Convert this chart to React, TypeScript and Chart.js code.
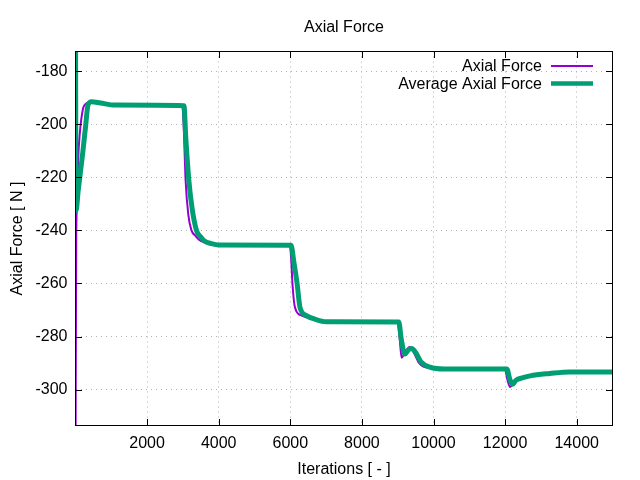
import React, { useEffect, useRef } from "react";
import { Chart, registerables } from "chart.js";

Chart.register(...registerables);

const chartTitle = "Axial Force";
const xAxisTitle = "Iterations [ - ]";
const yAxisTitle = "Axial Force [ N ]";
const seriesLabels = ["Axial Force", "Average Axial Force"];
const seriesColors = ["#9400d3", "#009e73"];

const xTickValues = [2000, 4000, 6000, 8000, 10000, 12000, 14000];
const yTickValues = [-300, -280, -260, -240, -220, -200, -180];

const forceX = [
  0, 20, 50, 75, 120, 213, 300, 420, 600, 900, 1200, 2000, 2980, 3020, 3075,
  3150, 3240, 3350, 3450, 3600, 3900, 4500, 5990, 6030, 6060, 6130, 6320, 6640,
  6950, 9000, 9050, 9110, 9200, 9340, 9450, 9600, 9810, 10500, 12000, 12060,
  12140, 12250, 12500, 12700, 13250, 13800, 15000,
];
const forceY = [
  -330, -243, -228, -213.5, -203.5, -194, -192.2, -191.5, -191.8, -192.5, -192.9,
  -193, -193, -200, -221, -234, -240, -242, -243.5, -244.5, -245.3, -245.6,
  -245.6, -252, -260, -269, -272.1, -273.4, -274.3, -274.5, -280, -288, -286,
  -283.9, -286, -290, -291.7, -292.2, -292.3, -296, -299, -297, -295.5, -294.8,
  -293.9, -293.3, -293.3,
];

const avgX = [
  0, 15, 75, 120, 200, 280, 350, 450, 700, 1100, 3030, 3080, 3165, 3260, 3380,
  3500, 3600, 3800, 4000, 6020, 6100, 6190, 6270, 6450, 6700, 7000, 9030, 9100,
  9200, 9300, 9390, 9500, 9650, 9900, 10300, 12050, 12130, 12210, 12300, 12500,
  12700, 13250, 13800, 15000,
];
const avgY = [
  -160, -232.5, -225, -220, -211, -201, -192.7, -191.5, -192, -192.8, -193, -205,
  -221, -232, -240, -242.5, -244, -245, -245.5, -245.6, -252, -260, -269, -272.1,
  -273.5, -274.4, -274.5, -281, -286.6, -285, -284.5, -286, -289.5, -291.5,
  -292.2, -292.2, -296, -298, -296.5, -295.5, -294.8, -293.9, -293.3, -293.3,
];

const FONT = '"Liberation Sans", Arial, sans-serif';

function toPoints(xs: number[], ys: number[]) {
  return xs.map((x, i) => ({ x, y: ys[i] }));
}

const framePlugin = {
  id: "gnuFrame",
  afterDatasetsDraw(chart: any) {
    const { ctx, chartArea: a, scales } = chart;
    const xs = scales.x;
    const ys = scales.y;
    ctx.save();
    ctx.strokeStyle = "#000";
    ctx.lineWidth = 1;
    ctx.setLineDash([]);
    ctx.strokeRect(a.left, a.top, a.right - a.left, a.bottom - a.top);
    const L = 6.5;
    ctx.beginPath();
    xs.ticks.forEach((t: any) => {
      const px = Math.round(xs.getPixelForValue(t.value)) + 0.5;
      ctx.moveTo(px, a.bottom);
      ctx.lineTo(px, a.bottom - L);
      ctx.moveTo(px, a.top);
      ctx.lineTo(px, a.top + L);
    });
    ys.ticks.forEach((t: any) => {
      const py = Math.round(ys.getPixelForValue(t.value)) + 0.5;
      ctx.moveTo(a.left, py);
      ctx.lineTo(a.left + L, py);
      ctx.moveTo(a.right, py);
      ctx.lineTo(a.right - L, py);
    });
    ctx.stroke();

    // title
    ctx.fillStyle = "#000";
    ctx.font = `16px ${FONT}`;
    ctx.textAlign = "center";
    ctx.textBaseline = "middle";
    ctx.fillText(chartTitle, (a.left + a.right) / 2, 27.5);

    // legend (gnuplot style: text then sample line)
    const widths = [2, 4.5];
    const rows = [67, 84.5];
    chart.data.datasets.forEach((ds: any, i: number) => {
      ctx.textAlign = "right";
      ctx.fillText(ds.label, 542, rows[i]);
      ctx.beginPath();
      ctx.strokeStyle = ds.borderColor;
      ctx.lineWidth = widths[i];
      ctx.moveTo(551, rows[i] - 1);
      ctx.lineTo(593, rows[i] - 1);
      ctx.stroke();
    });
    ctx.restore();
  },
};

export default function App() {
  const ref = useRef<HTMLCanvasElement | null>(null);

  useEffect(() => {
    document.body.style.margin = "0";
    if (!ref.current) return;
    const chart = new Chart(ref.current, {
      type: "line",
      data: {
        datasets: [
          {
            label: seriesLabels[0],
            data: toPoints(forceX, forceY),
            borderColor: seriesColors[0],
            backgroundColor: seriesColors[0],
            borderWidth: 2,
            pointRadius: 0,
            cubicInterpolationMode: "monotone",
            clip: 0,
            order: 1,
          },
          {
            label: seriesLabels[1],
            data: toPoints(avgX, avgY),
            borderColor: seriesColors[1],
            backgroundColor: seriesColors[1],
            borderWidth: 5,
            pointRadius: 0,
            cubicInterpolationMode: "monotone",
            clip: 0,
            order: 0,
          },
        ],
      },
      options: {
        animation: false,
        responsive: true,
        maintainAspectRatio: false,
        devicePixelRatio: 1,
        layout: { padding: { top: 51.5, right: 27.5, left: 0, bottom: 0 } },
        plugins: {
          legend: { display: false },
          title: { display: false },
          tooltip: { enabled: false },
        },
        scales: {
          x: {
            type: "linear",
            min: 0,
            max: 15000,
            afterBuildTicks: (s: any) => {
              s.ticks = xTickValues.map((v) => ({ value: v }));
            },
            afterFit: (s: any) => {
              s.height = 54.5;
            },
            border: { display: false, dash: [1, 4] },
            grid: {
              color: "#b0b0b0",
              lineWidth: 1,
              drawTicks: false,
            },
            ticks: {
              color: "#000",
              font: { family: FONT, size: 16 },
              padding: 8,
              maxRotation: 0,
              autoSkip: false,
              callback: (v: any) => String(v),
            },
            title: {
              display: true,
              text: xAxisTitle,
              color: "#000",
              font: { family: FONT, size: 16 },
              padding: { top: 0, bottom: 0.6 },
            },
          },
          y: {
            type: "linear",
            min: -313.5,
            max: -172.6,
            afterBuildTicks: (s: any) => {
              s.ticks = yTickValues.map((v) => ({ value: v }));
            },
            afterFit: (s: any) => {
              s.width = 75.5;
            },
            border: { display: false, dash: [1, 4] },
            grid: {
              color: "#b0b0b0",
              lineWidth: 1,
              drawTicks: false,
            },
            ticks: {
              color: "#000",
              font: { family: FONT, size: 16 },
              padding: 8,
              autoSkip: false,
              callback: (v: any) => String(v),
            },
            title: {
              display: true,
              text: yAxisTitle,
              color: "#000",
              font: { family: FONT, size: 16 },
              padding: { top: 8.4, bottom: 0 },
            },
          },
        },
      },
      plugins: [framePlugin],
    } as any);
    return () => chart.destroy();
  }, []);

  return (
    <div style={{ position: "absolute", left: 0, top: 0, width: 640, height: 480, background: "#fff" }}>
      <canvas ref={ref} />
    </div>
  );
}
